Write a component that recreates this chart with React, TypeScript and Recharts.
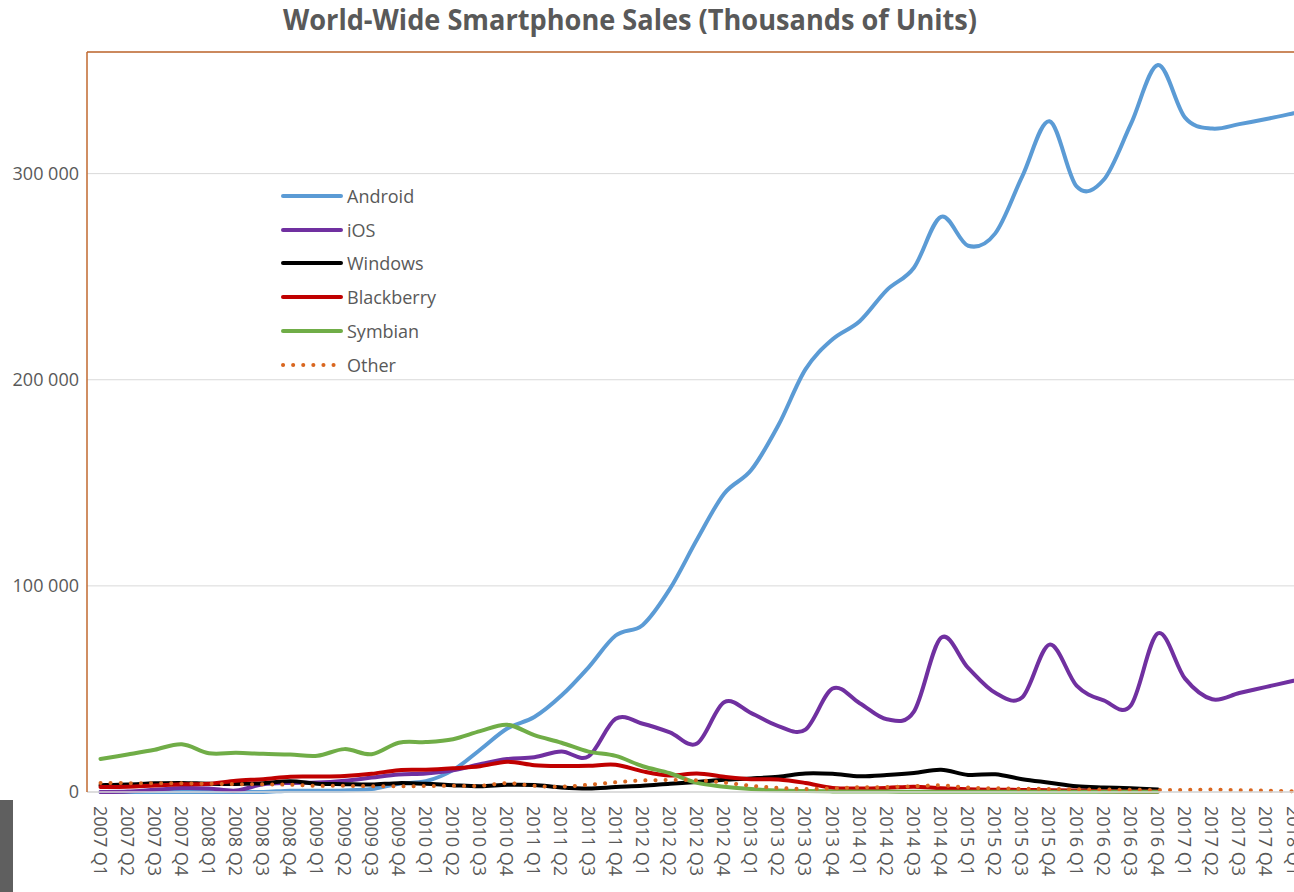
import { LineChart, Line, XAxis, YAxis, CartesianGrid, ReferenceLine } from 'recharts';

const quarters = [
  '2007 Q1', '2007 Q2', '2007 Q3', '2007 Q4',
  '2008 Q1', '2008 Q2', '2008 Q3', '2008 Q4',
  '2009 Q1', '2009 Q2', '2009 Q3', '2009 Q4',
  '2010 Q1', '2010 Q2', '2010 Q3', '2010 Q4',
  '2011 Q1', '2011 Q2', '2011 Q3', '2011 Q4',
  '2012 Q1', '2012 Q2', '2012 Q3', '2012 Q4',
  '2013 Q1', '2013 Q2', '2013 Q3', '2013 Q4',
  '2014 Q1', '2014 Q2', '2014 Q3', '2014 Q4',
  '2015 Q1', '2015 Q2', '2015 Q3', '2015 Q4',
  '2016 Q1', '2016 Q2', '2016 Q3', '2016 Q4',
  '2017 Q1', '2017 Q2', '2017 Q3', '2017 Q4',
  '2018 Q1',
];

const android = [
  0, 0, 0, 0, 0, 0, 0, 640,
  575, 756, 1425, 4043, 5227, 10606, 20500, 30801,
  36350, 46775, 60490, 75906, 81067, 98529, 122480, 144720,
  156186, 177898, 205023, 219613, 228373, 243484, 254354, 279058,
  265012, 271010, 298797, 325394, 293772, 297000, 324000, 352670,
  327163, 321856, 324000, 326500, 329300,
];

const ios = [
  0, 270, 1100, 1900, 1700, 700, 3800, 4400,
  4600, 5500, 7000, 8500, 9000, 10500, 13500, 16000,
  16900, 19600, 17300, 35500, 33100, 28900, 23500, 43500,
  38300, 32000, 30300, 50200, 43100, 35300, 39000, 74800,
  60200, 48100, 46000, 71500, 51600, 44400, 42000, 77000,
  55000, 45000, 48000, 51000, 54000,
];

const windows = [
  3300, 3600, 4200, 4400, 4000, 3900, 4300, 5200,
  4000, 3800, 3600, 4300, 4000, 3300, 2800, 3500,
  3400, 2200, 1700, 2400, 3000, 4000, 4900, 6000,
  6600, 7400, 9000, 8800, 7600, 8200, 9200, 10800,
  8300, 8600, 6200, 4500, 2800, 2200, 1800, 1200,
];

const blackberry = [
  2400, 2600, 3200, 3700, 4000, 5500, 6200, 7400,
  7500, 7800, 8800, 10600, 10800, 11500, 12500, 14700,
  13000, 12600, 12700, 13200, 10000, 8000, 9000, 7400,
  6200, 6100, 4400, 2000, 1700, 2000, 2600, 1800,
  1300, 1100, 1000, 900, 700, 400, 300, 200,
];

const symbian = [
  16000, 18200, 20500, 23200, 18800, 19000, 18500, 18200,
  17600, 20800, 18300, 23900, 24200, 25600, 29500, 32600,
  27600, 23900, 19600, 17500, 12500, 9100, 4400, 2600,
  1400, 700, 450, 300, 200, 200, 150, 150,
  150, 150, 150, 150, 150, 150, 150, 150,
];

const other = [
  4400, 4300, 4200, 4200, 4000, 3800, 3700, 3500,
  3000, 3000, 2800, 2800, 2900, 3000, 3000, 4300,
  3000, 2600, 3500, 4700, 5600, 5800, 5700, 4600,
  3000, 2000, 1500, 1800, 2300, 2400, 2800, 3200,
  2200, 1800, 1600, 1500, 1300, 1200, 1100, 1000,
  1000, 1200, 900, 700, 400,
];

const yTicks = [0, 100000, 200000, 300000];

const series = [
  { key: 'android', name: 'Android', color: '#5b9bd5', dotted: false },
  { key: 'ios', name: 'iOS', color: '#7030a0', dotted: false },
  { key: 'windows', name: 'Windows', color: '#000000', dotted: false },
  { key: 'blackberry', name: 'Blackberry', color: '#c00000', dotted: false },
  { key: 'symbian', name: 'Symbian', color: '#70ad47', dotted: false },
  { key: 'other', name: 'Other', color: '#d9661f', dotted: true },
];

const chartData = quarters.map((q, i) => ({
  q,
  android: android[i] ?? null,
  ios: ios[i] ?? null,
  windows: windows[i] ?? null,
  blackberry: blackberry[i] ?? null,
  symbian: symbian[i] ?? null,
  other: other[i] ?? null,
}));

const FONT = '"Open Sans", sans-serif';
const TEXT = '#595959';
const BORDER = '#c0682f';

// Excel-style smoothed line (Catmull-Rom through the points)
const smooth = (context: any) => {
  let pts: number[][] = [];
  return {
    areaStart() {},
    areaEnd() {},
    lineStart() {
      pts = [];
    },
    lineEnd() {
      const n = pts.length;
      if (!n) return;
      context.moveTo(pts[0][0], pts[0][1]);
      for (let i = 0; i < n - 1; i++) {
        const p0 = pts[i - 1] || pts[i];
        const p1 = pts[i];
        const p2 = pts[i + 1];
        const p3 = pts[i + 2] || p2;
        context.bezierCurveTo(
          p1[0] + (p2[0] - p0[0]) / 6,
          p1[1] + (p2[1] - p0[1]) / 6,
          p2[0] - (p3[0] - p1[0]) / 6,
          p2[1] - (p3[1] - p1[1]) / 6,
          p2[0],
          p2[1]
        );
      }
    },
    point(x: number, y: number) {
      pts.push([+x, +y]);
    },
  };
};

const fmt = (v: number) => String(v).replace(/\B(?=(\d{3})+(?!\d))/g, ' ');

const XTick = ({ x, y, payload }: any) => (
  <text
    x={x}
    y={y + 6}
    transform={`rotate(90, ${x}, ${y + 6})`}
    textAnchor="start"
    dominantBaseline="central"
    fill={TEXT}
    fontSize={18}
    fontFamily={FONT}
  >
    {payload.value}
  </text>
);

const LegendBox = () => (
  <div style={{ fontFamily: FONT, fontSize: 18, color: TEXT }}>
    {series.map((s) => (
      <div key={s.key} style={{ height: 33.8, display: 'flex', alignItems: 'center' }}>
        <svg width={64} height={10} style={{ display: 'block' }}>
          <line
            x1={2}
            y1={5}
            x2={60}
            y2={5}
            stroke={s.color}
            strokeWidth={4}
            strokeLinecap="round"
            strokeDasharray={s.dotted ? '0.1 10' : undefined}
          />
        </svg>
        <span style={{ marginLeft: 2 }}>{s.name}</span>
      </div>
    ))}
  </div>
);

export default function App() {
  return (
    <div style={{ position: 'fixed', left: 0, top: 0, width: 1294, height: 892, overflow: 'hidden', background: '#fff' }}>
      <svg width={1294} height={50} style={{ position: 'absolute', left: 0, top: 0 }}>
        <text
          x={630}
          y={30}
          textAnchor="middle"
          fontFamily={FONT}
          fontWeight="bold"
          fontSize={29}
          fill={TEXT}
          textLength={694}
          lengthAdjust="spacingAndGlyphs"
        >
          World-Wide Smartphone Sales (Thousands of Units)
        </text>
      </svg>
      <div style={{ position: 'absolute', left: 0, top: 0 }}>
        <LineChart width={1320} height={892} data={chartData} margin={{ top: 52, right: 13, left: 0, bottom: 0 }}>
          <CartesianGrid vertical={false} stroke="#d9d9d9" />
          <XAxis
            dataKey="q"
            interval={0}
            height={100}
            padding={{ left: 13.5, right: 13.5 }}
            tickLine={false}
            axisLine={{ stroke: '#d9d9d9', strokeWidth: 1.5 }}
            tick={<XTick />}
          />
          <YAxis
            domain={[0, 359000]}
            ticks={yTicks}
            width={87}
            tickLine={false}
            axisLine={{ stroke: BORDER, strokeWidth: 1.5 }}
            tickFormatter={fmt}
            tick={{ fill: TEXT, fontSize: 18, fontFamily: FONT }}
          />
          <ReferenceLine y={359000} stroke={BORDER} strokeWidth={1.5} />
          {series.map((s) => (
            <Line
              key={s.key}
              dataKey={s.key}
              name={s.name}
              type={smooth as any}
              stroke={s.color}
              strokeWidth={4}
              strokeDasharray={s.dotted ? '0.1 10' : undefined}
              strokeLinecap="round"
              dot={false}
              activeDot={false}
              isAnimationActive={false}
            />
          ))}
        </LineChart>
      </div>
      <div style={{ position: 'absolute', left: 281, top: 179, width: 170 }}>
        <LegendBox />
      </div>
      <div style={{ position: 'absolute', left: 0, top: 800, width: 13, height: 92, background: '#5f5f5f' }} />
    </div>
  );
}
